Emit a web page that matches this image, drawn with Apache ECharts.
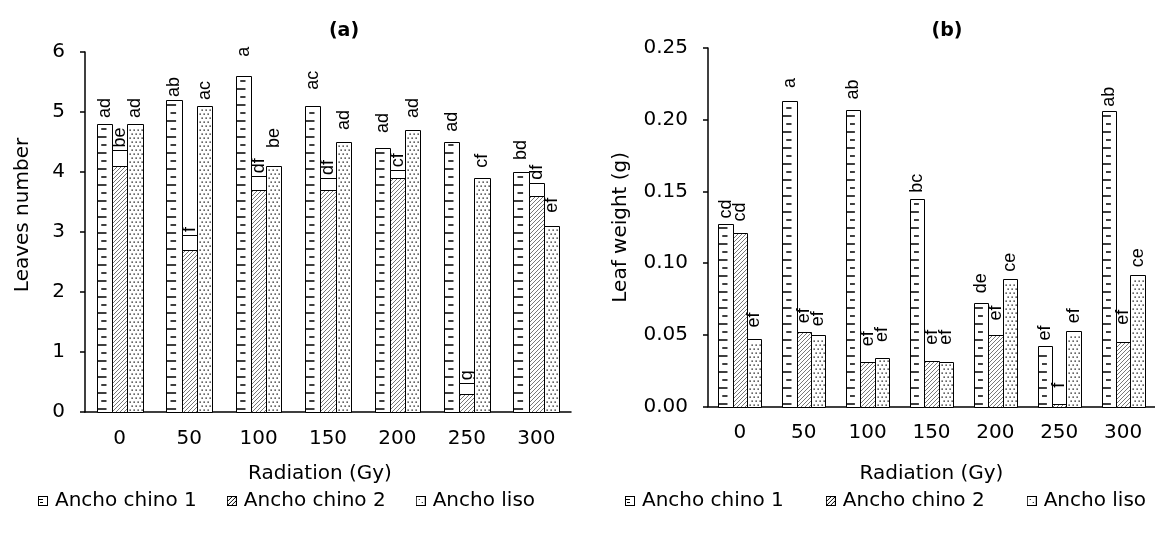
<!DOCTYPE html>
<html>
<head>
<meta charset="utf-8">
<script src="https://cdn.jsdelivr.net/npm/echarts@6/dist/echarts.min.js"></script>
<style>
html, body { margin: 0; padding: 0; background: #fff; }
#chart { width: 1155px; height: 538px; }
</style>
</head>
<body>
<div id="chart"></div>
<script>
var radiation = ['0', '50', '100', '150', '200', '250', '300'];
var names = ['Ancho chino 1', 'Ancho chino 2', 'Ancho liso'];

// (a) leaves number
var leavesChino1 = [4.8, 5.2, 5.6, 5.1, 4.4, 4.5, 4.0];
var leavesChino2 = [4.1, 2.7, 3.7, 3.7, 3.9, 0.3, 3.6];
var leavesLiso   = [4.8, 5.1, 4.1, 4.5, 4.7, 3.9, 3.1];
// top of the error / white box, where the letters start
var leavesChino1Top = [4.85, 5.2, 5.87, 5.32, 4.6, 4.62, 4.15];
var leavesChino2Top = [4.36, 2.95, 3.93, 3.9, 4.03, 0.48, 3.82];
var leavesLisoTop   = [4.85, 5.15, 4.35, 4.65, 4.85, 4.02, 3.27];
var leavesChino1Let = ['ad', 'ab', 'a', 'ac', 'ad', 'ad', 'bd'];
var leavesChino2Let = ['be', 'f', 'df', 'df', 'cf', 'g', 'df'];
var leavesLisoLet   = ['ad', 'ac', 'be', 'ad', 'ad', 'cf', 'ef'];

// (b) leaf weight (g)
var weightChino1 = [0.127, 0.213, 0.207, 0.145, 0.072, 0.042, 0.206];
var weightChino2 = [0.121, 0.052, 0.031, 0.032, 0.050, 0.002, 0.045];
var weightLiso   = [0.047, 0.050, 0.034, 0.031, 0.089, 0.053, 0.092];
var weightChino1Top = [0.129, 0.220, 0.212, 0.147, 0.077, 0.044, 0.207];
var weightChino2Top = [0.127, 0.056, 0.040, 0.041, 0.058, 0.011, 0.055];
var weightLisoTop   = [0.053, 0.054, 0.043, 0.041, 0.092, 0.056, 0.095];
var weightChino1Let = ['cd', 'a', 'ab', 'bc', 'de', 'ef', 'ab'];
var weightChino2Let = ['cd', 'ef', 'ef', 'ef', 'ef', 'f', 'ef'];
var weightLisoLet   = ['ef', 'ef', 'ef', 'ef', 'ce', 'ef', 'ce'];

var FONT = 'DejaVu Sans';

// fill patterns, return path strings
function ruler(x0, y0, w, h) {
  var s = '';
  var n = 0;
  for (var y = Math.round(y0 + h) - 4; y > y0 + 2; y -= 8) {
    if (n % 2 === 0) s += 'M' + x0 + ' ' + y + 'L' + (x0 + w * 0.6) + ' ' + y;
    else s += 'M' + (x0 + w * 0.25) + ' ' + y + 'L' + (x0 + w * 0.6) + ' ' + y;
    n++;
  }
  return { stroke: s, lw: 1.6 };
}
function hatch(x0, y0, w, h) {
  var s = '';
  var y1 = y0 + h;
  var step = 4;
  for (var c = Math.ceil((x0 + y0) / step) * step; c < x0 + w + y1; c += step) {
    var xa = Math.max(x0, c - y1), xb = Math.min(x0 + w, c - y0);
    if (xb > xa) s += 'M' + xa + ' ' + (c - xa) + 'L' + xb + ' ' + (c - xb);
  }
  return { stroke: s, lw: 0.8, color: '#555' };
}
function dots(x0, y0, w, h) {
  var s = '';
  var r = 0;
  for (var y = y0 + h - 3; y > y0 + 1; y -= 4) {
    for (var x = x0 + 2 + (r % 2) * 2; x < x0 + w - 1.5; x += 4) {
      s += 'M' + x + ' ' + y + 'h1.3v1.3h-1.3Z';
    }
    r++;
  }
  return { fill: s };
}

function barRender(k, pattern, letters, boxed, ratio) {
  return function (params, api) {
    var i = api.value(0), v = api.value(1), t = api.value(2);
    var band = api.size([1, 0])[0];
    var bw = band * ratio;
    var c = api.coord([i, v]);
    var b = api.coord([i, 0]);
    var x0 = Math.round(c[0] - 1.5 * bw + k * bw) + 0.5;
    var x1 = Math.round(c[0] - 1.5 * bw + (k + 1) * bw) + 0.5;
    var y0 = Math.round(c[1]) + 0.5;
    var y1 = Math.round(b[1]) + 0.5;
    var w = x1 - x0, h = y1 - y0;
    var kids = [];
    kids.push({ type: 'rect', shape: { x: x0, y: y0, width: w, height: h }, style: { fill: '#fff' } });
    var p = pattern(x0, y0, w, h);
    if (p.stroke) kids.push({ type: 'path', shape: { pathData: p.stroke }, style: { fill: null, stroke: p.color || '#000', lineWidth: p.lw } });
    if (p.fill) kids.push({ type: 'path', shape: { pathData: p.fill }, style: { fill: '#000' } });
    kids.push({ type: 'rect', shape: { x: x0, y: y0, width: w, height: h }, style: { fill: null, stroke: '#000', lineWidth: 1 } });
    var ty = api.coord([i, t])[1];
    if (boxed && t > v) {
      var yt = Math.round(ty) + 0.5;
      kids.push({ type: 'rect', shape: { x: x0, y: yt, width: w, height: y0 - yt }, style: { fill: '#fff', stroke: '#000', lineWidth: 1 } });
    }
    kids.push({
      type: 'text', x: (x0 + x1) / 2, y: ty - 3, rotation: Math.PI / 2,
      style: { text: letters[params.dataIndex], fill: '#000', fontSize: 18, fontFamily: 'Liberation Sans', align: 'left', verticalAlign: 'middle' }
    });
    return { type: 'group', children: kids };
  };
}

function makeData(vals, tops) {
  return vals.map(function (v, i) { return [i, v, tops[i]]; });
}

function icon(kind) {
  var cv = document.createElement('canvas');
  cv.width = 10; cv.height = 10;
  var g = cv.getContext('2d');
  g.fillStyle = '#fff'; g.fillRect(0, 0, 10, 10);
  g.strokeStyle = '#000'; g.lineWidth = 1;
  g.beginPath();
  if (kind === 0) { g.moveTo(1, 3.5); g.lineTo(5, 3.5); g.moveTo(2, 6.5); g.lineTo(5, 6.5); }
  if (kind === 1) { g.moveTo(1, 9); g.lineTo(9, 1); g.moveTo(1, 5); g.lineTo(5, 1); g.moveTo(5, 9); g.lineTo(9, 5); }
  g.stroke();
  g.fillStyle = '#000';
  if (kind === 2) { g.fillRect(3, 3, 1, 1); g.fillRect(6, 6, 1, 1); }
  g.strokeRect(0.5, 0.5, 9, 9);
  return 'image://' + cv.toDataURL();
}
var legendData = names.map(function (n, k) { return { name: n, icon: icon(k) }; });

var patterns = [ruler, hatch, dots];
var axisLine = { lineStyle: { color: '#000', width: 1.5 } };
var tickText = { color: '#000', fontSize: 20, fontFamily: FONT };
var nameText = { color: '#000', fontSize: 20, fontFamily: FONT };
var legendText = { color: '#000', fontSize: 20, fontFamily: FONT, padding: [0, 0, 0, 2] };

var chart = echarts.init(document.getElementById('chart'));
chart.setOption({
  animation: false,
  backgroundColor: '#fff',
  title: [
    { text: '(a)', left: 339, top: 17, textAlign: 'center', textStyle: { fontSize: 19, fontWeight: 'bold', fontFamily: FONT, color: '#000' } },
    { text: '(b)', left: 942, top: 17, textAlign: 'center', textStyle: { fontSize: 19, fontWeight: 'bold', fontFamily: FONT, color: '#000' } }
  ],
  legend: [
    { data: legendData, left: 33, top: 486, itemWidth: 10, itemHeight: 10, itemGap: 30, selectedMode: false, textStyle: legendText },
    { data: legendData, left: 620, top: 486, itemWidth: 10, itemHeight: 10, itemGap: 42, selectedMode: false, textStyle: legendText }
  ],
  grid: [
    { left: 85, top: 52, width: 486, height: 360 },
    { left: 708, top: 48, width: 448, height: 358.6 }
  ],
  xAxis: [
    { type: 'category', gridIndex: 0, data: radiation, axisLine: axisLine, axisTick: { show: false },
      axisLabel: Object.assign({ margin: 17 }, tickText),
      name: 'Radiation (Gy)', nameLocation: 'middle', nameGap: 52,
      nameTextStyle: Object.assign({ padding: [0, 16, 0, 0] }, nameText) },
    { type: 'category', gridIndex: 1, data: radiation, axisLine: axisLine, axisTick: { show: false },
      axisLabel: Object.assign({ margin: 16 }, tickText),
      name: 'Radiation (Gy)', nameLocation: 'middle', nameGap: 57, nameTextStyle: nameText }
  ],
  yAxis: [
    { type: 'value', gridIndex: 0, min: 0, max: 6, interval: 1, splitLine: { show: false },
      axisLine: Object.assign({ show: true }, axisLine), axisTick: { show: true, length: 5, lineStyle: { color: '#000', width: 1.5 } },
      axisLabel: Object.assign({ margin: 20 }, tickText),
      name: 'Leaves number', nameLocation: 'middle', nameGap: 52,
      nameTextStyle: Object.assign({ padding: [0, 0, 0, 34] }, nameText) },
    { type: 'value', gridIndex: 1, min: 0, max: 0.25, interval: 0.05, splitLine: { show: false },
      axisLine: Object.assign({ show: true }, axisLine), axisTick: { show: true, length: 5, lineStyle: { color: '#000', width: 1.5 } },
      axisLabel: Object.assign({ margin: 20, formatter: function (v) { return v.toFixed(2); } }, tickText),
      name: 'Leaf weight (g)', nameLocation: 'middle', nameGap: 77, nameTextStyle: nameText }
  ],
  series: [
    { type: 'custom', name: names[0], xAxisIndex: 0, yAxisIndex: 0, encode: { x: 0, y: [1, 2] },
      renderItem: barRender(0, patterns[0], leavesChino1Let, false, 0.219), data: makeData(leavesChino1, leavesChino1Top) },
    { type: 'custom', name: names[1], xAxisIndex: 0, yAxisIndex: 0, encode: { x: 0, y: [1, 2] },
      renderItem: barRender(1, patterns[1], leavesChino2Let, true, 0.219), data: makeData(leavesChino2, leavesChino2Top) },
    { type: 'custom', name: names[2], xAxisIndex: 0, yAxisIndex: 0, encode: { x: 0, y: [1, 2] },
      renderItem: barRender(2, patterns[2], leavesLisoLet, false, 0.219), data: makeData(leavesLiso, leavesLisoTop) },
    { type: 'custom', name: names[0], xAxisIndex: 1, yAxisIndex: 1, encode: { x: 0, y: [1, 2] },
      renderItem: barRender(0, patterns[0], weightChino1Let, false, 0.225), data: makeData(weightChino1, weightChino1Top) },
    { type: 'custom', name: names[1], xAxisIndex: 1, yAxisIndex: 1, encode: { x: 0, y: [1, 2] },
      renderItem: barRender(1, patterns[1], weightChino2Let, false, 0.225), data: makeData(weightChino2, weightChino2Top) },
    { type: 'custom', name: names[2], xAxisIndex: 1, yAxisIndex: 1, encode: { x: 0, y: [1, 2] },
      renderItem: barRender(2, patterns[2], weightLisoLet, false, 0.225), data: makeData(weightLiso, weightLisoTop) }
  ]
});
</script>
</body>
</html>
